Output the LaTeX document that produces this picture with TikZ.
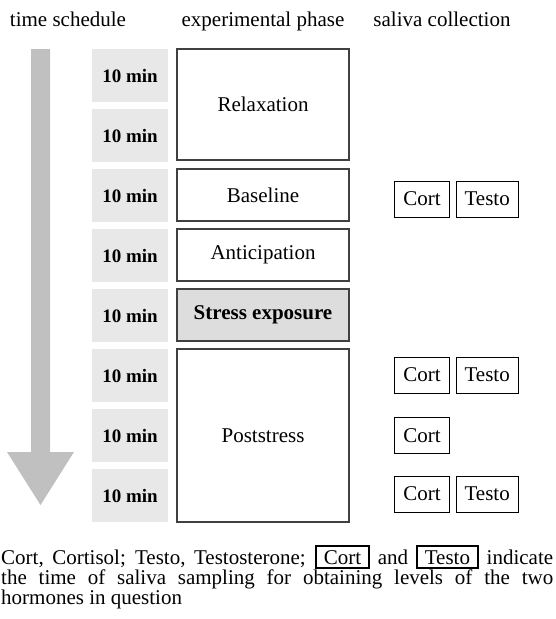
\documentclass[tikz,border=0pt]{standalone}
\usepackage{fontspec}
\setmainfont{Liberation Serif}
\usetikzlibrary{positioning}
\definecolor{minfill}{HTML}{E8E8E8}
\definecolor{stressfill}{HTML}{DDDDDD}
\definecolor{arrowgray}{HTML}{C0C0C0}
\definecolor{boxline}{HTML}{404040}
\newcommand{\capbox}[1]{{\setlength{\fboxsep}{0pt}\setlength{\fboxrule}{1.8pt}\fbox{\rule[-2.5pt]{0pt}{20pt}\hspace{7pt}#1\hspace{7pt}}}}

\begin{document}
\begin{tikzpicture}[x=1pt,y=1pt,
		head/.style={font=\fontsize{21}{24}\selectfont, anchor=base},
		minbox/.style={fill=minfill, minimum width=76pt, minimum height=53pt, inner sep=0pt, font=\fontsize{19}{22}\selectfont\bfseries},
		phasebox/.style={draw=boxline, line width=1.2pt, minimum width=172pt, inner sep=0pt, font=\fontsize{21}{24}\selectfont},
		sample/.style={draw=black, line width=0.9pt, minimum height=36pt, inner xsep=8.5pt, inner ysep=0pt, font=\fontsize{21}{24}\selectfont}]
		\useasboundingbox (0,0) rectangle (555,-619);
		\node[head] (tsched) at (68,-26) {time schedule};
		\node[head] (ephase) at (263,-26) {experimental phase};
		\node[head] (saliva) at (442,-26) {saliva collection};
		\fill[arrowgray] (31,-49) -- (50,-49) -- (50,-452) -- (74,-452) -- (40.5,-505) -- (7,-452) -- (31,-452) -- cycle; %time arrow%
		\foreach \i in {0,...,7}
			\node[minbox] (m\i) at (130,{-75.5-60*\i}) {10 min};
		\node[phasebox, minimum height=111pt] (relax) at (263,-104.5) {Relaxation};
		\node[phasebox, minimum height=52pt] (base) at (263,-195) {Baseline};
		\node[phasebox, minimum height=52pt] (antic) at (263,-255) {Anticipation};
		\node[phasebox, minimum height=52pt, fill=stressfill, font=\fontsize{21}{24}\selectfont\bfseries] (stress) at (263,-315) {Stress exposure};
		\node[phasebox, minimum height=173pt] (post) at (263,-435.5) {Poststress};
		\node[sample] (c1) at (422,-199) {Cort};
		\node[sample, right=6pt of c1] (t1) {Testo};
		\node[sample] (c2) at (422,-375) {Cort};
		\node[sample, right=6pt of c2] (t2) {Testo};
		\node[sample] (c3) at (422,-435.5) {Cort};
		\node[sample] (c4) at (422,-494) {Cort};
		\node[sample, right=6pt of c4] (t4) {Testo};
		\node[anchor=north west, text width=552pt, align=justify, inner sep=0pt, font=\fontsize{21}{20}\selectfont] (note) at (1,-545)
			{\noindent Cort, Cortisol; Testo, Testosterone; \capbox{Cort} and \capbox{Testo} indicate\linebreak
			the time of saliva sampling for obtaining levels of the two\linebreak
			hormones in question};
	\end{tikzpicture}
\end{document}
